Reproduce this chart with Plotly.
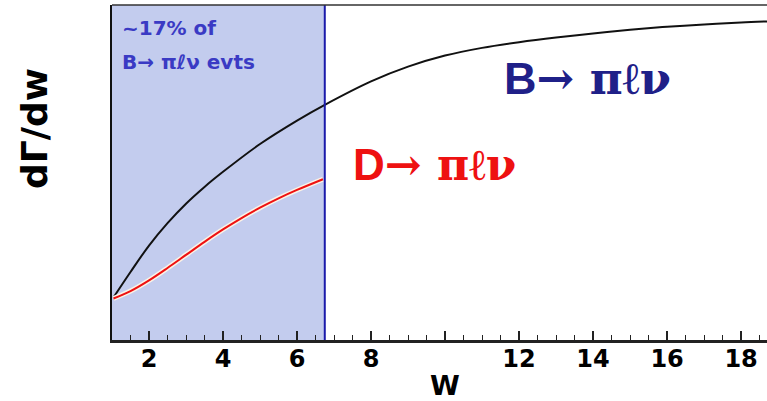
import plotly.graph_objects as go

# Differential rate dGamma/dw versus w (arbitrary units)
w_b = [1.04, 1.5, 2, 2.5, 3, 3.5, 4, 5, 6, 6.75, 8, 9, 10, 11, 12, 13, 14, 15, 16, 17, 18, 18.7]
rate_b = [1.27, 2.03, 2.82, 3.49, 4.07, 4.57, 5.02, 5.85, 6.55, 7.02, 7.72, 8.16, 8.49,
          8.72, 8.89, 9.03, 9.15, 9.26, 9.35, 9.42, 9.48, 9.51]

w_d = [1.04, 1.5, 2, 2.5, 3, 3.5, 4, 4.5, 5, 5.5, 6, 6.7]
rate_d = [1.24, 1.46, 1.78, 2.15, 2.54, 2.93, 3.30, 3.64, 3.95, 4.23, 4.48, 4.80]

# Region covered by the D -> pi l nu spectrum
w_cut = 6.75
x_range = [1.0, 18.7]
y_range = [0.0, 10.0]

tick_vals = [2, 4, 6, 8, 10, 12, 14, 16, 18]
tick_text = ["2", "4", "6", "8", "", "12", "14", "16", "18"]

NAVY = "#1f2088"
RED = "#ee1111"
SHADE = "#c3ccee"
CUT_LINE = "#1a1aaa"
NOTE = "#3a3ac4"
SANS = "DejaVu Sans, Verdana, sans-serif"
ARIAL = "Liberation Sans, Arial, sans-serif"

fig = go.Figure()

# B -> pi l nu spectrum
fig.add_trace(go.Scatter(
    x=w_b, y=rate_b, mode="lines",
    line=dict(color="#111111", width=2, shape="spline", smoothing=1.0),
    hoverinfo="skip", showlegend=False,
))
# D -> pi l nu spectrum with a light halo
fig.add_trace(go.Scatter(
    x=w_d, y=rate_d, mode="lines",
    line=dict(color="#fbf3e6", width=5, shape="spline", smoothing=1.0),
    hoverinfo="skip", showlegend=False,
))
fig.add_trace(go.Scatter(
    x=w_d, y=rate_d, mode="lines",
    line=dict(color=RED, width=2, shape="spline", smoothing=1.0),
    hoverinfo="skip", showlegend=False,
))

shapes = [
    dict(type="rect", xref="x", yref="paper", x0=x_range[0], x1=w_cut, y0=0, y1=1,
         fillcolor=SHADE, line=dict(width=0), layer="below"),
    dict(type="line", xref="x", yref="paper", x0=w_cut, x1=w_cut, y0=0, y1=1,
         line=dict(color=CUT_LINE, width=2), layer="above"),
    dict(type="line", xref="paper", yref="paper", x0=0, x1=1, y0=1, y1=1,
         line=dict(color="#333333", width=1.5), layer="above"),
]

sym = "font-family:'DejaVu Serif', 'Liberation Serif', serif"
annotations = [
    dict(x=1.22, y=9.31, xref="x", yref="y", xanchor="left", yanchor="middle",
         text="~17% of", showarrow=False,
         font=dict(family=SANS, size=20, color=NOTE, weight="bold")),
    dict(x=1.22, y=8.30, xref="x", yref="y", xanchor="left", yanchor="middle",
         text="B→ πℓν evts", showarrow=False,
         font=dict(family=SANS, size=20, color=NOTE, weight="bold")),
    dict(x=11.55, y=7.82, xref="x", yref="y", xanchor="left", yanchor="middle",
         text=f"B<span style=\"{sym}\">→ πℓν</span>", showarrow=False,
         font=dict(family=ARIAL, size=45, color=NAVY, weight="bold")),
    dict(x=7.45, y=5.25, xref="x", yref="y", xanchor="left", yanchor="middle",
         text=f"D<span style=\"{sym}\">→ πℓν</span>", showarrow=False,
         font=dict(family=ARIAL, size=44, color=RED, weight="bold")),
    dict(x=-0.1176, y=6.33, xref="paper", yref="y", xanchor="center", yanchor="middle",
         text="dΓ/dw", textangle=-90, showarrow=False,
         font=dict(family=SANS, size=36, color="#000000", weight="bold")),
    dict(x=10, y=-0.137, xref="x", yref="paper", xanchor="center", yanchor="middle",
         text="W", showarrow=False,
         font=dict(family=SANS, size=27, color="#000000", weight="bold")),
]

fig.update_layout(
    width=767, height=401,
    margin=dict(l=112, r=0, t=5, b=61),
    paper_bgcolor="white", plot_bgcolor="white",
    shapes=shapes, annotations=annotations,
    xaxis=dict(
        range=x_range, showgrid=False, zeroline=False,
        showline=True, linecolor="#222222", linewidth=2.5,
        ticks="inside", ticklen=9, tickwidth=1.5, tickcolor="#222222",
        tickmode="array", tickvals=tick_vals, ticktext=tick_text,
        tickfont=dict(family=SANS, size=24, color="#000000", weight="bold"),
        ticklabelstandoff=-5,
        minor=dict(ticks="inside", ticklen=5, tickwidth=1.2, tickcolor="#222222",
                   tick0=0, dtick=0.5, showgrid=False),
        layer="above traces",
    ),
    yaxis=dict(
        range=y_range, showgrid=False, zeroline=False,
        showline=True, linecolor="#111111", linewidth=2,
        ticks="", showticklabels=False,
    ),
)

fig.write_html("out.html")
